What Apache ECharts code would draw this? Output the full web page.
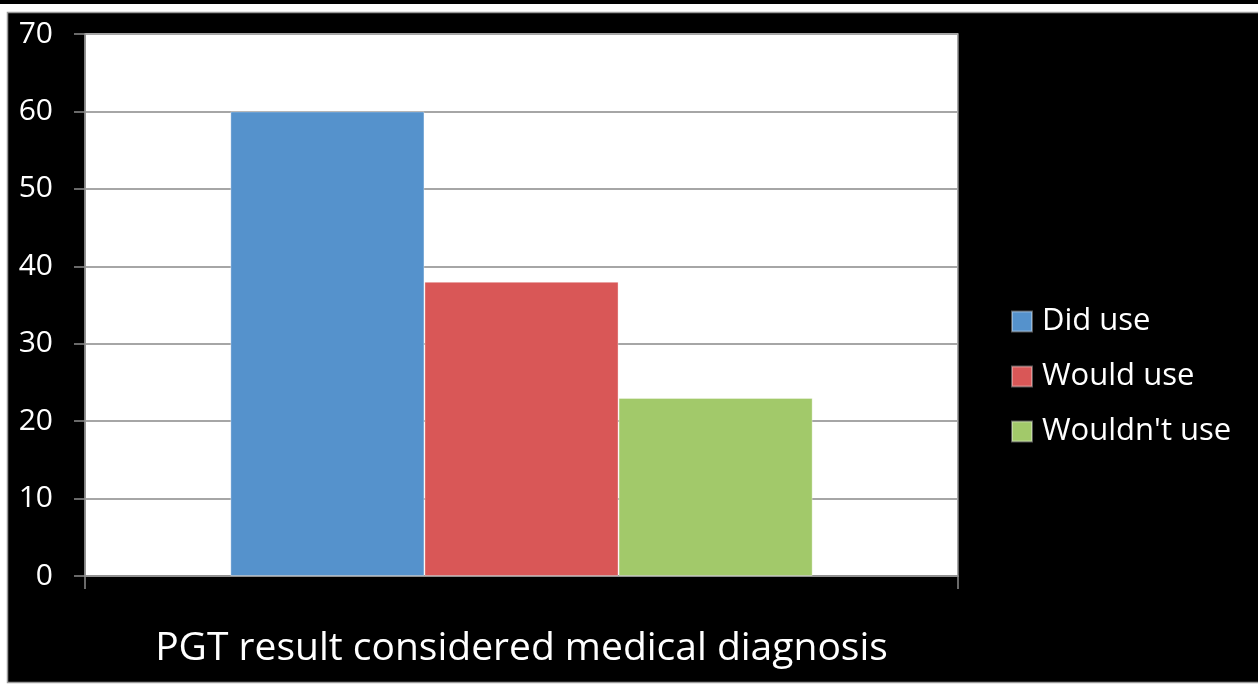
<!DOCTYPE html>
<html>
<head>
<meta charset="utf-8">
<script src="https://cdn.jsdelivr.net/npm/echarts@6/dist/echarts.min.js"></script>
<style>
  html, body { margin: 0; padding: 0; background: #ffffff; }
  #chart { width: 1258px; height: 684px; }
</style>
</head>
<body>
<div id="chart"></div>
<script>
// Survey answers on whether a PGT result is treated as a medical diagnosis
const categories = ["PGT result considered medical diagnosis"];
const seriesNames = ["Did use", "Would use", "Wouldn't use"];
const didUse = [60];
const wouldUse = [38];
const wouldntUse = [23];
const seriesValues = [didUse, wouldUse, wouldntUse];
const seriesColors = ["#5592cc", "#d95757", "#a2c96a"];

const FONT = "'Open Sans', Lato, sans-serif";
const chart = echarts.init(document.getElementById("chart"), null, { renderer: "canvas" });

chart.setOption({
  backgroundColor: "#ffffff",
  animation: false,
  textStyle: { fontFamily: FONT },
  graphic: [
    // thin dark strip along the very top edge
    { type: "rect", shape: { x: 0, y: 0, width: 1258, height: 4 }, style: { fill: "#000000" }, z: -10, silent: true },
    // black slide panel holding the chart
    { type: "rect", shape: { x: 7.5, y: 12.5, width: 1260, height: 670 },
      style: { fill: "#000000", stroke: "#9a9a9a", lineWidth: 1.5 }, z: -10, silent: true }
  ],
  grid: {
    left: 85, right: 300, top: 34, bottom: 108,
    show: true, backgroundColor: "#ffffff", borderColor: "#8c8c8c", borderWidth: 1.5
  },
  legend: {
    orient: "vertical",
    left: 1011, top: 306,
    padding: 0,
    itemWidth: 20, itemHeight: 20,
    itemGap: 24,
    icon: "rect",
    data: seriesNames,
    textStyle: { color: "#ffffff", fontSize: 31, fontFamily: FONT, padding: [0, 0, 0, 5] }
  },
  xAxis: {
    type: "category",
    data: categories,
    boundaryGap: true,
    axisLine: { show: true, lineStyle: { color: "#8c8c8c", width: 1.5 } },
    axisTick: { show: true, length: 13, lineStyle: { color: "#8c8c8c", width: 1.5 } },
    axisLabel: { color: "#ffffff", fontSize: 39, fontFamily: FONT, margin: 53 }
  },
  yAxis: {
    type: "value",
    min: 0, max: 70, interval: 10,
    axisLine: { show: true, lineStyle: { color: "#8c8c8c", width: 1.5 } },
    axisTick: { show: true, length: 11, lineStyle: { color: "#8c8c8c", width: 1.5 } },
    splitLine: { show: true, lineStyle: { color: "#a6a6a6", width: 2 } },
    axisLabel: { color: "#ffffff", fontSize: 30, fontFamily: FONT, margin: 32 }
  },
  series: seriesNames.map((name, i) => ({
    name: name,
    type: "bar",
    data: seriesValues[i],
    barGap: "0%",
    barCategoryGap: "33.3%",
    itemStyle: { color: seriesColors[i], borderColor: "rgba(255,255,255,0.35)", borderWidth: 1 }
  }))
});
</script>
</body>
</html>
